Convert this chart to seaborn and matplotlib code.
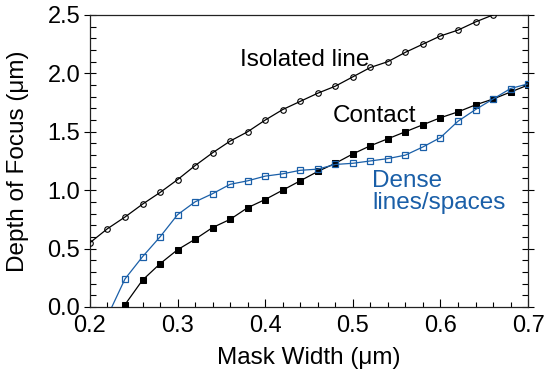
import numpy as np
import pandas as pd
import matplotlib
matplotlib.use("Agg")
import matplotlib.pyplot as plt
from matplotlib.ticker import MultipleLocator, FormatStrFormatter
import seaborn as sns

# Mask width values (um), one point every 0.02
width_iso = [0.20, 0.22, 0.24, 0.26, 0.28, 0.30, 0.32, 0.34, 0.36, 0.38, 0.40,
             0.42, 0.44, 0.46, 0.48, 0.50, 0.52, 0.54, 0.56, 0.58, 0.60, 0.62,
             0.64, 0.66]
dof_iso = [0.55, 0.67, 0.77, 0.88, 0.98, 1.09, 1.21, 1.32, 1.42, 1.50, 1.60,
           1.69, 1.76, 1.83, 1.89, 1.97, 2.05, 2.10, 2.18, 2.25, 2.32, 2.37,
           2.44, 2.50]

width_contact = [0.24, 0.26, 0.28, 0.30, 0.32, 0.34, 0.36, 0.38, 0.40, 0.42,
                 0.44, 0.46, 0.48, 0.50, 0.52, 0.54, 0.56, 0.58, 0.60, 0.62,
                 0.64, 0.66, 0.68, 0.70]
dof_contact = [0.02, 0.23, 0.37, 0.49, 0.58, 0.68, 0.75, 0.85, 0.92, 1.00,
               1.08, 1.16, 1.23, 1.31, 1.38, 1.44, 1.50, 1.56, 1.62, 1.67,
               1.73, 1.78, 1.84, 1.90]

width_dense = [0.22, 0.24, 0.26, 0.28, 0.30, 0.32, 0.34, 0.36, 0.38, 0.40,
               0.42, 0.44, 0.46, 0.48, 0.50, 0.52, 0.54, 0.56, 0.58, 0.60,
               0.62, 0.64, 0.66, 0.68, 0.70]
dof_dense = [-0.08, 0.24, 0.43, 0.60, 0.79, 0.90, 0.97, 1.05, 1.08, 1.12,
             1.14, 1.17, 1.18, 1.22, 1.23, 1.25, 1.27, 1.30, 1.37, 1.45,
             1.59, 1.69, 1.78, 1.87, 1.91]

BLUE = "#1a5fa8"

sns.set_style("ticks")
plt.rcParams['font.family'] = ['Liberation Sans', 'DejaVu Sans']
plt.rcParams.update({'text.color': 'black', 'axes.labelcolor': 'black',
                     'xtick.color': 'black', 'ytick.color': 'black'})

fig = plt.figure(figsize=(5.45, 3.73), dpi=100)
ax = fig.add_axes([0.165, 0.177, 0.804, 0.783])

df_iso = pd.DataFrame({"width": width_iso, "dof": dof_iso})
df_contact = pd.DataFrame({"width": width_contact, "dof": dof_contact})
df_dense = pd.DataFrame({"width": width_dense, "dof": dof_dense})

sns.lineplot(data=df_iso, x="width", y="dof", ax=ax, color="black", lw=0.9,
             marker="o", markersize=4, markerfacecolor="none",
             markeredgecolor="black", markeredgewidth=0.8, zorder=3)
sns.lineplot(data=df_contact, x="width", y="dof", ax=ax, color="black", lw=0.9,
             marker="s", markersize=4.2, markerfacecolor="black",
             markeredgecolor="black", zorder=3)
sns.lineplot(data=df_dense, x="width", y="dof", ax=ax, color=BLUE, lw=0.9,
             marker="s", markersize=4.5, markerfacecolor="none",
             markeredgecolor=BLUE, markeredgewidth=0.9, zorder=4)

ax.set_xlim(0.2, 0.7)
ax.set_ylim(0.0, 2.5)
ax.xaxis.set_major_locator(MultipleLocator(0.1))
ax.xaxis.set_minor_locator(MultipleLocator(0.02))
ax.yaxis.set_major_locator(MultipleLocator(0.5))
ax.yaxis.set_minor_locator(MultipleLocator(0.1))
ax.xaxis.set_major_formatter(FormatStrFormatter('%.1f'))
ax.yaxis.set_major_formatter(FormatStrFormatter('%.1f'))

ax.tick_params(axis='y', which='major', direction='inout', length=8, width=0.8,
               right=True, labelsize=17, pad=3)
ax.tick_params(axis='y', which='minor', direction='in', length=4, width=0.8,
               right=True)
ax.tick_params(axis='x', which='major', direction='in', length=6, width=0.8,
               top=False, labelsize=17, pad=6)
ax.tick_params(axis='x', which='minor', direction='in', length=3.5, width=0.8,
               top=False)
for s in ax.spines.values():
    s.set_color("#222222")
    s.set_linewidth(0.9)

ax.set_xlabel("Mask Width (\u03bcm)", fontsize=17.5, labelpad=7)
ax.set_ylabel("Depth of Focus (\u03bcm)", fontsize=17.5, labelpad=13)

ax.text(0.445, 2.115, "Isolated line", fontsize=17.5, ha="center", va="center")
ax.text(0.477, 1.635, "Contact", fontsize=17.5, ha="left", va="center")
ax.text(0.522, 0.98, "Dense\nlines/spaces", fontsize=17.5, ha="left",
        va="center", color=BLUE, linespacing=1.0)

fig.savefig("out.png", dpi=100)
